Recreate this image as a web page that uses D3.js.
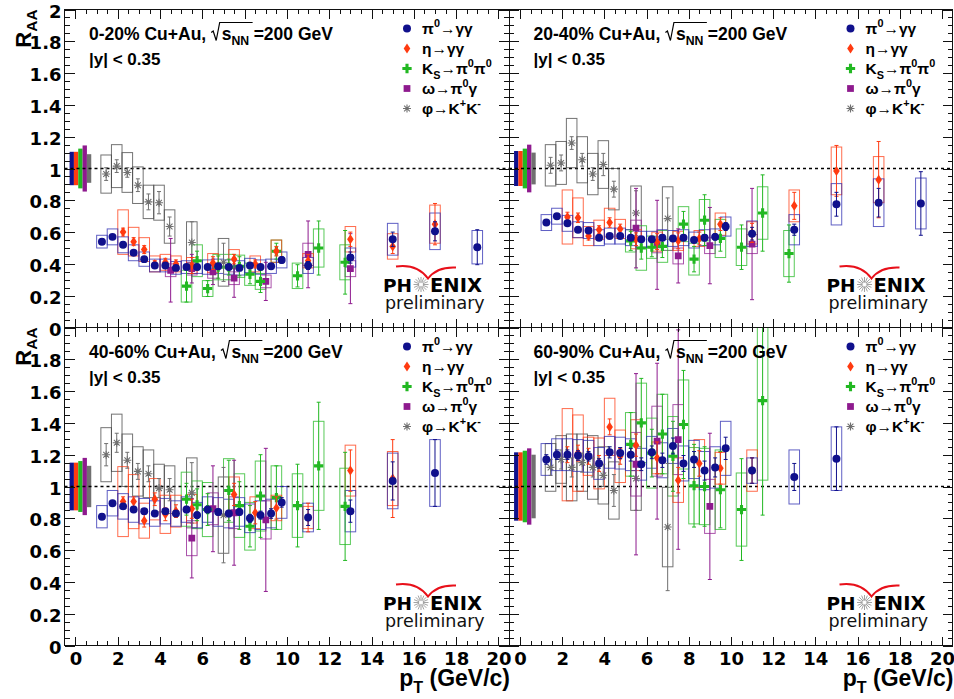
<!DOCTYPE html>
<html>
<head>
<meta charset="utf-8">
<script src="https://cdn.jsdelivr.net/npm/d3@7"></script>
<style>
  body { margin: 0; background: #fff; }
  svg { display: block; }
</style>
</head>
<body>
<svg id="chart" width="954" height="699"></svg>
<script>
// [pT, RAA, stat, sys] for each species and centrality class
const pi0_0020 = [[1.25,.54,.012,.04],[1.75,.57,.012,.05],[2.25,.52,.012,.05],[2.75,.47,.012,.05],[3.25,.43,.012,.045],[3.75,.39,.012,.04],[4.25,.39,.012,.04],[4.75,.375,.012,.04],[5.25,.38,.012,.04],[5.75,.38,.012,.04],[6.25,.38,.012,.045],[6.75,.385,.012,.045],[7.25,.38,.012,.045],[7.75,.375,.012,.045],[8.25,.39,.015,.045],[8.75,.38,.015,.045],[9.25,.385,.015,.045],[9.75,.425,.02,.05],[11,.39,.025,.05],[13,.44,.035,.06],[15,.555,.045,.10],[17,.605,.06,.115],[19,.505,.11,.105]];
const eta_0020 = [[2.25,.60,.025,.14],[2.75,.54,.025,.09],[3.25,.49,.025,.075],[3.75,.40,.02,.05],[4.25,.41,.025,.05],[4.75,.40,.025,.05],[5.5,.39,.05,.05],[6.5,.405,.04,.06],[7.5,.43,.03,.06],[8.5,.40,.025,.05],[9.5,.48,.03,.07],[11,.42,.04,.045],[13,.555,.045,.08],[15,.51,.045,.08],[17,.65,.13,.12]];
const ks_0020 = [[5.25,.26,.1,.1],[5.75,.42,.06,.1],[6.25,.245,.05,.05],[6.75,.38,.07,.08],[7.25,.38,.05,.08],[7.75,.385,.06,.07],[8.25,.335,.06,.07],[8.75,.29,.07,.05],[9.5,.48,.05,.07],[10.5,.325,.07,.08],[11.5,.50,.17,.12],[12.75,.41,.2,.11]];
const omega_0020 = [[4.5,.36,.2,.04],[5.5,.37,.09,.04],[6.5,.35,.08,.04],[7.5,.31,.12,.04],[9.0,.29,.12,.04],[11,.46,.21,.07],[13,.37,.22,.05]];
const phi_0020 = [[1.45,.965,.04,.12],[1.95,1.015,.04,.135],[2.45,.975,.03,.125],[2.95,.895,.04,.115],[3.45,.79,.05,.105],[3.95,.785,.07,.11],[4.45,.635,.06,.105],[5.5,.535,.13,.13],[7.0,.41,.12,.15]];

const pi0_2040 = [[1.25,.66,.012,.05],[1.75,.70,.012,.05],[2.25,.655,.012,.05],[2.75,.615,.012,.05],[3.25,.61,.012,.05],[3.75,.565,.012,.05],[4.25,.575,.012,.05],[4.75,.575,.012,.05],[5.25,.565,.012,.05],[5.75,.555,.015,.05],[6.25,.555,.015,.05],[6.75,.565,.015,.05],[7.25,.56,.015,.05],[7.75,.565,.015,.05],[8.25,.55,.015,.05],[8.75,.565,.02,.05],[9.25,.57,.02,.05],[9.75,.635,.025,.06],[11,.59,.04,.08],[13,.615,.035,.095],[15,.775,.075,.13],[17,.785,.09,.15],[19,.78,.2,.16]];
const eta_2040 = [[2.25,.695,.03,.17],[2.75,.69,.03,.125],[3.25,.575,.025,.06],[3.75,.615,.025,.06],[4.25,.66,.03,.09],[4.75,.62,.03,.06],[5.5,.555,.04,.06],[6.5,.54,.05,.06],[7.5,.545,.05,.06],[8.5,.56,.04,.05],[9.5,.65,.04,.07],[11,.595,.06,.07],[13,.765,.085,.10],[15,.985,.16,.15],[17,.93,.24,.145]];
const ks_2040 = [[5.25,.545,.06,.07],[5.75,.50,.07,.14],[6.25,.505,.06,.07],[6.75,.51,.07,.1],[7.75,.65,.08,.11],[8.25,.43,.08,.1],[8.75,.675,.16,.13],[9.5,.56,.08,.12],[10.5,.505,.14,.115],[11.5,.72,.24,.165],[12.75,.465,.18,.145]];
const omega_2040 = [[5.5,.625,.25,.05],[6.5,.52,.28,.05],[7.5,.45,.17,.05],[9.0,.515,.24,.05],[11,.525,.35,.06]];
const phi_2040 = [[1.45,1.02,.05,.13],[1.95,1.035,.05,.135],[2.45,1.16,.04,.155],[2.95,1.055,.04,.145],[3.45,.965,.04,.13],[3.95,1.025,.07,.15],[4.45,.87,.05,.13],[5.5,.72,.14,.17],[7.0,.685,.13,.2]];

const pi0_4060 = [[1.25,.81,.015,.07],[1.75,.895,.015,.08],[2.25,.875,.015,.08],[2.75,.855,.015,.08],[3.25,.845,.015,.08],[3.75,.83,.015,.08],[4.25,.845,.015,.08],[4.75,.83,.015,.08],[5.25,.855,.02,.08],[5.75,.82,.02,.08],[6.25,.855,.02,.08],[6.75,.84,.02,.09],[7.25,.83,.02,.09],[7.75,.84,.02,.09],[8.25,.80,.025,.09],[8.75,.82,.025,.09],[9.25,.83,.03,.09],[9.75,.90,.03,.10],[11,.805,.05,.09],[13,.845,.07,.13],[15,1.035,.12,.175],[17,1.085,.21,.21]];
const eta_4060 = [[2.25,.905,.03,.22],[2.75,.905,.03,.17],[3.25,.785,.04,.11],[3.75,.92,.04,.13],[4.25,.825,.04,.12],[4.75,.845,.04,.1],[5.5,.86,.06,.09],[7.5,.95,.07,.11],[8.5,.835,.07,.1],[9.5,.865,.07,.08],[11,.805,.09,.07],[13,1.10,.13,.16],[15,1.05,.245,.17]];
const ks_4060 = [[5.25,.92,.1,.17],[5.75,.885,.1,.15],[6.25,.855,.1,.17],[7.25,.975,.19,.2],[7.75,.88,.15,.2],[8.25,.75,.13,.15],[8.75,.94,.26,.22],[9.5,.93,.2,.2],[10.5,.88,.26,.2],[11.5,1.13,.4,.28],[12.75,.875,.34,.24]];
const omega_4060 = [[5.5,.675,.25,.11],[6.5,.86,.27,.1],[7.5,.835,.33,.1],[9.0,.79,.45,.12]];
const phi_4060 = [[1.45,1.20,.07,.17],[1.95,1.275,.06,.18],[2.45,1.165,.05,.165],[2.95,1.095,.05,.155],[3.45,1.08,.05,.15],[3.95,.99,.06,.15],[4.45,.98,.07,.15],[5.5,.96,.19,.22],[7.0,.82,.3,.24]];

const pi0_6090 = [[1.25,1.17,.03,.1],[1.75,1.20,.03,.1],[2.25,1.20,.03,.1],[2.75,1.195,.03,.1],[3.25,1.19,.03,.1],[3.75,1.145,.03,.1],[4.25,1.215,.035,.1],[4.75,1.21,.035,.1],[5.25,1.20,.04,.1],[5.75,1.14,.04,.1],[6.25,1.215,.04,.1],[6.75,1.165,.045,.11],[7.25,1.255,.05,.11],[7.75,1.145,.05,.11],[8.25,1.17,.05,.12],[8.75,1.10,.06,.12],[9.25,1.12,.06,.13],[9.75,1.24,.07,.17],[11,1.10,.08,.08],[13,1.06,.085,.17],[15,1.175,.2,.2]];
const eta_6090 = [[2.25,1.20,.05,.29],[2.75,1.21,.05,.24],[3.25,1.19,.05,.12],[3.75,1.145,.05,.16],[4.25,1.375,.05,.18],[4.75,1.19,.05,.165],[5.5,1.26,.07,.16],[6.5,1.18,.1,.1],[7.5,1.04,.08,.14],[8.5,1.145,.08,.15],[9.5,1.115,.1,.1],[11,1.10,.08,.13]];
const ks_6090 = [[5.25,1.265,.2,.2],[5.75,1.40,.28,.25],[6.25,1.21,.15,.22],[6.75,1.33,.25,.25],[7.25,1.19,.22,.25],[7.75,1.39,.34,.28],[8.25,1.005,.26,.24],[8.75,1.0,.25,.24],[9.5,.98,.24,.25],[10.5,.855,.32,.23],[11.5,1.54,.72,.5]];
const omega_6090 = [[5.5,1.14,.57,.2],[6.5,1.285,.49,.22],[7.5,1.295,.69,.22],[9.0,.875,.46,.17]];
const phi_6090 = [[1.45,1.12,.05,.15],[1.95,1.17,.06,.15],[2.45,1.12,.06,.21],[2.95,1.15,.06,.18],[3.45,1.12,.06,.2],[3.95,1.07,.07,.18],[4.45,.975,.1,.18],[5.5,1.05,.2,.2],[7.0,.745,.4,.25]];

// global normalisation uncertainties around 1 (pi0, eta, Ks, omega, phi)
const norm_0020 = [.105, .105, .125, .145, .09];
const norm_2040 = [.11, .11, .125, .15, .10];
const norm_4060 = [.15, .15, .16, .18, .13];
const norm_6090 = [.215, .215, .225, .24, .20];

const centralities = ["0-20%", "20-40%", "40-60%", "60-90%"];
const xTicks = [0, 2, 4, 6, 8, 10, 12, 14, 16, 18, 20];
const yTicks = [0, 0.2, 0.4, 0.6, 0.8, 1, 1.2, 1.4, 1.6, 1.8, 2];

const species = [
  { key: "pi0",   color: "#10108c", box: "#2a2ab0", shape: "circle",  label: [["π"], ["0", "sup"], ["→γγ"]] },
  { key: "eta",   color: "#ff3a10", box: "#ff3a10", shape: "diamond", label: [["η→γγ"]] },
  { key: "ks",    color: "#22b822", box: "#22b822", shape: "cross",   label: [["K"], ["S", "sub"], ["→π"], ["0", "sup"], ["π"], ["0", "sup"]] },
  { key: "omega", color: "#8e1a8e", box: "#8e1a8e", shape: "square",  label: [["ω→π"], ["0", "sup"], ["γ"]] },
  { key: "phi",   color: "#707070", box: "#444444", shape: "star",    label: [["φ→K"], ["+", "sup"], ["K"], ["-", "sup"]] }
];

const panels = [
  { cent: centralities[0], col: 0, row: 0, data: { pi0: pi0_0020, eta: eta_0020, ks: ks_0020, omega: omega_0020, phi: phi_0020 }, norm: norm_0020 },
  { cent: centralities[1], col: 1, row: 0, data: { pi0: pi0_2040, eta: eta_2040, ks: ks_2040, omega: omega_2040, phi: phi_2040 }, norm: norm_2040 },
  { cent: centralities[2], col: 0, row: 1, data: { pi0: pi0_4060, eta: eta_4060, ks: ks_4060, omega: omega_4060, phi: phi_4060 }, norm: norm_4060 },
  { cent: centralities[3], col: 1, row: 1, data: { pi0: pi0_6090, eta: eta_6090, ks: ks_6090, omega: omega_6090, phi: phi_6090 }, norm: norm_6090 }
];

const cols = [[64.5, 509], [509, 952.5]];
const rows = [[9.5, 327.5], [327.5, 645.5]];
const xDomain = [-0.52, 20.5];
const boldFont = "'Liberation Sans', Arial, Helvetica, sans-serif";
const wideFont = "'DejaVu Sans', Verdana, sans-serif";

const svg = d3.select("#chart");
svg.append("rect").attr("width", 954).attr("height", 699).attr("fill", "#fff");
const defs = svg.append("defs");

const markerPath = {
  circle: d3.symbol(d3.symbolCircle, 50)(),
  diamond: "M0,-5L3.3,0L0,5L-3.3,0Z",
  cross: d3.symbol(d3.symbolCross, 48)(),
  square: d3.symbol(d3.symbolSquare, 46)(),
  star: "M-4,0H4M0,-4V4M-2.9,-2.9L2.9,2.9M-2.9,2.9L2.9,-2.9"
};

function drawMarker(sel, s) {
  const m = sel.append("path").attr("d", markerPath[s.shape]);
  if (s.shape === "star") m.attr("fill", "none").attr("stroke", s.color).attr("stroke-width", 1.1);
  else m.attr("fill", s.color);
  return m;
}

// text with sub/superscripts built from tspans
function rich(parent, x, y, parts, fs, anchor) {
  const t = parent.append("text")
    .attr("x", x).attr("y", y)
    .attr("font-size", fs)
    .attr("text-anchor", anchor || "start");
  let cur = 0;
  parts.forEach(([str, mode]) => {
    const target = mode === "sub" ? fs * 0.3 : mode === "sup" ? -fs * 0.42 : 0;
    t.append("tspan").attr("dy", target - cur).attr("font-size", mode ? fs * 0.7 : fs).text(str);
    cur = target;
  });
  return t;
}

const fmtY = d => Math.abs(d - Math.round(d)) < 1e-9 ? String(Math.round(d)) : d3.format(".1f")(d);

function styleAxis(g) {
  g.select(".domain").remove();
  g.selectAll(".tick line").attr("stroke", "#111").attr("shape-rendering", "crispEdges");
  g.attr("font-family", wideFont).attr("font-size", 18).attr("font-weight", "bold");
  g.selectAll(".tick text").attr("fill", "#000");
}

function drawPanel(p) {
  const [x0, x1] = cols[p.col], [y0, y1] = rows[p.row];
  const x = d3.scaleLinear().domain(xDomain).range([x0, x1]);
  const y = d3.scaleLinear().domain([0, 2]).range([y1, y0]);
  const g = svg.append("g");
  const clipId = "clip" + p.col + p.row;
  defs.append("clipPath").attr("id", clipId)
    .append("rect").attr("x", x0).attr("y", y0).attr("width", x1 - x0).attr("height", y1 - y0);

  // normalisation bars at pT ~ 0
  const nw = 0.205;
  g.selectAll("rect.norm").data(p.norm).join("rect")
    .attr("class", "norm")
    .attr("x", (d, i) => x(-0.28 + i * nw))
    .attr("width", x(nw) - x(0))
    .attr("y", d => y(1 + d))
    .attr("height", d => y(1 - d) - y(1 + d))
    .attr("fill", (d, i) => species[i].color);

  // unity line
  g.append("line")
    .attr("x1", x0).attr("x2", x1).attr("y1", y(1)).attr("y2", y(1))
    .attr("stroke", "#000").attr("stroke-width", 1.4).attr("stroke-dasharray", "3,3");

  const plot = g.append("g").attr("clip-path", `url(#${clipId})`);
  const order = ["phi", "omega", "ks", "eta", "pi0"].map(k => species.find(s => s.key === k));

  // systematic boxes
  order.forEach(s => {
    plot.append("g").selectAll("rect").data(p.data[s.key]).join("rect")
      .attr("x", d => x(d[0] - 0.25))
      .attr("width", x(0.5) - x(0))
      .attr("y", d => y(d[1] + d[3]))
      .attr("height", d => y(d[1] - d[3]) - y(d[1] + d[3]))
      .attr("fill", "none").attr("stroke", s.box)
      .attr("stroke-opacity", 0.75).attr("stroke-width", 1);
  });

  // statistical errors and markers
  order.forEach(s => {
    const sg = plot.append("g");
    const pts = sg.selectAll("g").data(p.data[s.key]).join("g");
    pts.append("path")
      .attr("d", d => {
        const cx = x(d[0]), yt = y(d[1] + d[2]), yb = y(d[1] - d[2]);
        return `M${cx},${yt}V${yb}M${cx - 2},${yt}H${cx + 2}M${cx - 2},${yb}H${cx + 2}`;
      })
      .attr("fill", "none").attr("stroke", s.color).attr("stroke-width", 1);
    pts.each(function (d) {
      drawMarker(d3.select(this), s).attr("transform", `translate(${x(d[0])},${y(d[1])})`);
    });
  });

  // frame
  g.append("rect").attr("x", x0).attr("y", y0).attr("width", x1 - x0).attr("height", y1 - y0)
    .attr("fill", "none").attr("stroke", "#111").attr("stroke-width", 1).attr("shape-rendering", "crispEdges");

  // axes: ROOT style ticks on all four sides, pointing inward
  const yMinor = d3.range(1, 40).filter(i => i % 4).map(i => i * 0.05);
  const xMinor = d3.range(1, 41).filter(i => i % 4).map(i => i * 0.5);

  const left = g.append("g").attr("transform", `translate(${x0},0)`)
    .call(d3.axisLeft(y).tickValues(yTicks).tickSize(-10).tickPadding(3)
      .tickFormat(d => p.col === 0 && !(p.row === 1 && d === 2) ? fmtY(d) : ""))
    .call(styleAxis);
  left.selectAll(".tick text").attr("dy", "0.42em");
  g.append("g").attr("transform", `translate(${x0},0)`)
    .call(d3.axisLeft(y).tickValues(yMinor).tickSize(-5).tickFormat("")).call(styleAxis);
  g.append("g").attr("transform", `translate(${x1},0)`)
    .call(d3.axisRight(y).tickValues(yTicks).tickSize(-10).tickFormat("")).call(styleAxis);
  g.append("g").attr("transform", `translate(${x1},0)`)
    .call(d3.axisRight(y).tickValues(yMinor).tickSize(-5).tickFormat("")).call(styleAxis);
  g.append("g").attr("transform", `translate(0,${y0})`)
    .call(d3.axisTop(x).tickValues(xTicks).tickSize(-9).tickFormat("")).call(styleAxis);
  g.append("g").attr("transform", `translate(0,${y0})`)
    .call(d3.axisTop(x).tickValues(xMinor).tickSize(-4.5).tickFormat("")).call(styleAxis);
  g.append("g").attr("transform", `translate(0,${y1})`)
    .call(d3.axisBottom(x).tickValues(xTicks).tickSize(-9).tickPadding(7)
      .tickFormat(d => p.row === 1 ? d : ""))
    .call(styleAxis);
  g.append("g").attr("transform", `translate(0,${y1})`)
    .call(d3.axisBottom(x).tickValues(xMinor).tickSize(-4.5).tickFormat("")).call(styleAxis);

  // header text
  const hdr = g.append("g").attr("font-family", boldFont).attr("font-weight", "bold").attr("fill", "#000");
  const tx = x0 + 24.5, ty = y0 + 30;
  const t1 = rich(hdr, tx, ty, [[p.cent + " Cu+Au,"]], 17.5);
  const rx = tx + t1.node().getComputedTextLength() + 5;
  const t2 = rich(hdr, rx + 10.5, ty, [["s"], ["NN", "sub"]], 17.5);
  const l2 = t2.node().getComputedTextLength();
  hdr.append("path")
    .attr("d", `M${rx},${ty - 7}L${rx + 2},${ty - 8.5}L${rx + 5},${ty + 1}L${rx + 8.5},${ty - 17}H${rx + 14 + l2}`)
    .attr("fill", "none").attr("stroke", "#000").attr("stroke-width", 1.2);
  rich(hdr, rx + 15 + l2, ty, [["=200 GeV"]], 17.5);
  rich(hdr, tx, y0 + 55.5, [["|y| < 0.35"]], 17);

  // legend
  const lg = g.append("g").attr("font-family", boldFont).attr("font-weight", "bold");
  species.forEach((s, i) => {
    const ly = y0 + 19 + i * 20;
    drawMarker(lg, s).attr("transform", `translate(${x1 - 102},${ly})`);
    rich(lg, x1 - 87, ly + 5.5, s.label, 15.5);
  });

  // PHENIX preliminary logo
  const logo = g.append("g");
  logo.append("path")
    .attr("d", `M${x1 - 113},${y1 - 61}Q${x1 - 92},${y1 - 64} ${x1 - 81},${y1 - 49}Q${x1 - 72},${y1 - 61} ${x1 - 53},${y1 - 60}`)
    .attr("fill", "none").attr("stroke", "#e8101a").attr("stroke-width", 2);
  logo.append("text").attr("x", x1 - 97).attr("y", y1 - 36).attr("text-anchor", "end")
    .attr("font-family", wideFont).attr("font-weight", "bold").attr("font-size", 18.5).text("PH");
  logo.append("text").attr("x", x1 - 79).attr("y", y1 - 36)
    .attr("font-family", wideFont).attr("font-weight", "bold").attr("font-size", 19.5).text("ENIX");
  const sc = [x1 - 88, y1 - 43];
  logo.append("g").selectAll("line").data(d3.range(16)).join("line")
    .attr("x1", a => sc[0] + 2 * Math.cos(a * Math.PI / 8)).attr("y1", a => sc[1] + 2 * Math.sin(a * Math.PI / 8))
    .attr("x2", a => sc[0] + 7.5 * Math.cos(a * Math.PI / 8)).attr("y2", a => sc[1] + 7.5 * Math.sin(a * Math.PI / 8))
    .attr("stroke", "#999").attr("stroke-width", 0.9);
  logo.append("text").attr("x", x1 - 124).attr("y", y1 - 19)
    .attr("font-family", wideFont).attr("font-size", 17.5).attr("fill", "#111").text("preliminary");

  // axis titles
  if (p.col === 0) {
    const yt = svg.append("g").attr("transform", `translate(30.5,${y0})rotate(-90)`)
      .attr("font-family", boldFont).attr("font-weight", "bold");
    rich(yt, 0, 0, [["R"], ["AA", "sub"]], 22, "end");
  }
  if (p.row === 1) {
    const xt = svg.append("g").attr("font-family", boldFont).attr("font-weight", "bold");
    rich(xt, x1 + 1, 686, [["p"], ["T", "sub"], [" (GeV/c)"]], 23, "end");
  }
}

panels.forEach(drawPanel);
</script>
</body>
</html>
